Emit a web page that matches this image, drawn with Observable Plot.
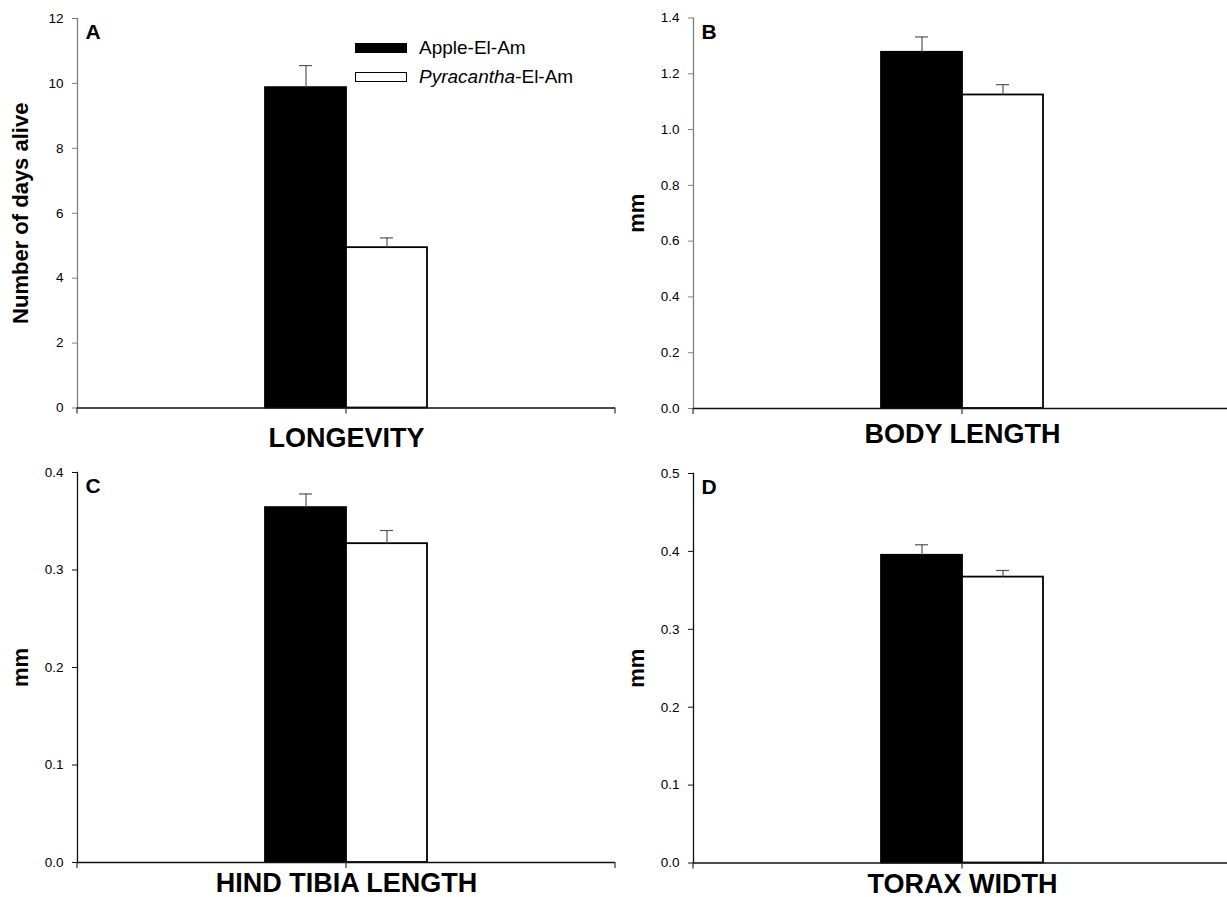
<!DOCTYPE html>
<html>
<head>
<meta charset="utf-8">
<script src="https://cdn.jsdelivr.net/npm/d3@7"></script>
<script src="https://cdn.jsdelivr.net/npm/@observablehq/plot@0.6"></script>
<style>
  body { margin: 0; background: #fff; font-family: "Liberation Sans", Arial, sans-serif; }
  #wrap { position: relative; width: 1227px; height: 897px; overflow: hidden; background: #fff; }
  .panel { position: absolute; width: 620px; }
  .panel svg { overflow: visible; max-width: none !important; }
  .leg-row { position: absolute; left: 355px; height: 20px; display: flex; align-items: center; font-size: 19px; color: #000; white-space: nowrap; }
  .leg-sw { width: 52px; height: 10px; box-sizing: border-box; margin-right: 12px; }
</style>
</head>
<body>
<div id="wrap"></div>
<script>
// ---- data ----
const series = ["Apple-El-Am", "Pyracantha-El-Am"];
const panelLetters = ["A", "B", "C", "D"];
const traits = ["LONGEVITY", "BODY LENGTH", "HIND TIBIA LENGTH", "TORAX WIDTH"];
const yLabels = ["Number of days alive", "mm", "mm", "mm"];
const appleMeans = [9.87, 1.277, 0.364, 0.395];
const appleErrors = [0.68, 0.055, 0.014, 0.0135];
const pyraMeans = [4.94, 1.124, 0.327, 0.367];
const pyraErrors = [0.30, 0.037, 0.0135, 0.0085];
const yMax = [12, 1.4, 0.4, 0.5];
const yTicks = [
  [0, 2, 4, 6, 8, 10, 12],
  [0, 0.2, 0.4, 0.6, 0.8, 1.0, 1.2, 1.4],
  [0, 0.1, 0.2, 0.3, 0.4],
  [0, 0.1, 0.2, 0.3, 0.4, 0.5]
];
const tickFormats = ["d", ".1f", ".1f", ".1f"];

// ---- layout (page pixels) ----
const layout = [
  {left: 0,   top: 0,   height: 455, plotTop: 18,  plotBottom: 407.5, titleBase: 446, axisColor: "#7f7f7f"},
  {left: 616, top: 0,   height: 455, plotTop: 17.5,plotBottom: 408,   titleBase: 442, axisColor: "#7f7f7f"},
  {left: 0,   top: 440, height: 457, plotTop: 472, plotBottom: 862,   titleBase: 891, axisColor: "#111"},
  {left: 616, top: 440, height: 457, plotTop: 473, plotBottom: 862.5, titleBase: 892, axisColor: "#111"}
];

const wrap = document.getElementById("wrap");

panelLetters.forEach((letter, i) => {
  const L = layout[i];
  const data = [
    {series: series[0], mean: appleMeans[i], err: appleErrors[i]},
    {series: series[1], mean: pyraMeans[i], err: pyraErrors[i]}
  ];
  const mTop = L.plotTop - L.top;
  const mBottom = L.top + L.height - L.plotBottom;
  const width = 620, mLeft = 77, mRight = 5;

  const plot = Plot.plot({
    width, height: L.height,
    marginLeft: mLeft, marginRight: mRight, marginTop: mTop, marginBottom: mBottom,
    style: {fontFamily: '"Liberation Sans", Arial, sans-serif', background: "transparent", overflow: "visible", maxWidth: "none"},
    x: {type: "band", domain: series, paddingInner: 0, paddingOuter: 2.32, axis: null},
    y: {domain: [0, yMax[i]], axis: null},
    color: {domain: series, range: ["#000", "#fff"]},
    marks: [
      Plot.barY(data, {x: "series", y: "mean", fill: "series", stroke: "#000", strokeWidth: 1.8, inset: 0}),
      Plot.ruleX(data, {x: "series", y1: "mean", y2: d => d.mean + d.err, stroke: "#555", strokeWidth: 1.2}),
      Plot.tickY(data, {x: "series", y: d => d.mean + d.err, stroke: "#555", strokeWidth: 1.2, insetLeft: 34, insetRight: 34}),
      Plot.axisY({ticks: yTicks[i], tickFormat: d3.format(tickFormats[i]), tickSize: 5, tickPadding: 9, fontSize: 13.5, stroke: L.axisColor, label: null}),
      Plot.frame({anchor: "left", stroke: L.axisColor, strokeWidth: 1.3}),
      Plot.ruleY([0], {stroke: "#111", strokeWidth: 1.5}),
      Plot.text([letter], {frameAnchor: "top-left", dx: 8, dy: 6, lineAnchor: "top", textAnchor: "start", fontSize: 21, fontWeight: "bold", fill: "#000"}),
      Plot.text([yLabels[i]], {frameAnchor: "left", rotate: -90, dx: -57, textAnchor: "middle", lineAnchor: "middle", fontSize: 22, fontWeight: "bold", fill: "#000"}),
      Plot.text([traits[i]], {frameAnchor: "bottom", dy: L.titleBase - L.plotBottom, lineAnchor: "bottom", textAnchor: "middle", fontSize: 27, fontWeight: "bold", fill: "#000"})
    ]
  });

  // x-axis tick marks at both ends and at the category centre, from the x scale range
  const xr = plot.scale("x").range;
  const yb = plot.scale("y").apply(0);
  const svg = d3.select(plot);
  [xr[0], (xr[0] + xr[1]) / 2, xr[1]].forEach(px => {
    svg.append("line")
      .attr("x1", px).attr("x2", px)
      .attr("y1", yb).attr("y2", yb + 6)
      .attr("stroke", "#333").attr("stroke-width", 1.2);
  });

  const div = document.createElement("div");
  div.className = "panel";
  div.style.left = L.left + "px";
  div.style.top = L.top + "px";
  div.appendChild(plot);
  wrap.appendChild(div);
});

// legend (panel A)
const legendItems = [
  {fill: "#000", html: "Apple-El-Am", top: 38},
  {fill: "#fff", html: "<i>Pyracantha</i>-El-Am", top: 67}
];
legendItems.forEach((it, k) => {
  const row = document.createElement("div");
  row.className = "leg-row";
  row.style.top = it.top + "px";
  const sw = document.createElement("span");
  sw.className = "leg-sw";
  sw.style.background = it.fill;
  sw.style.border = "1.5px solid #000";
  const tx = document.createElement("span");
  tx.innerHTML = series[k] === "Pyracantha-El-Am" ? it.html : series[k];
  row.appendChild(sw);
  row.appendChild(tx);
  wrap.appendChild(row);
});
</script>
</body>
</html>
